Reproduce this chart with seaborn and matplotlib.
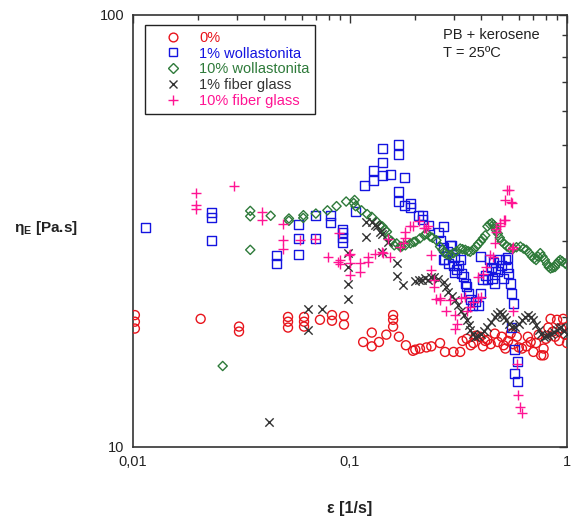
import matplotlib
matplotlib.use("Agg")
import matplotlib.pyplot as plt
import seaborn as sns
import numpy as np
from matplotlib.lines import Line2D
from matplotlib.ticker import FixedLocator, FixedFormatter, NullFormatter

# ---------------- data ----------------
x_0 = [0.0102, 0.0102, 0.0102, 0.0205, 0.0308, 0.0308, 0.0518, 0.0518, 0.0518,
       0.0614, 0.0614, 0.0614, 0.0727, 0.0826, 0.0826, 0.0938, 0.0938, 0.115,
       0.126, 0.126, 0.136, 0.147, 0.158, 0.158, 0.158, 0.168, 0.181, 0.195,
       0.200, 0.21, 0.225, 0.237, 0.26, 0.274, 0.30, 0.322,
       0.33, 0.345, 0.36, 0.37, 0.38, 0.398, 0.41, 0.42, 0.43, 0.445, 0.465,
       0.48, 0.50, 0.51, 0.52, 0.535, 0.55, 0.565, 0.587, 0.60, 0.62, 0.65,
       0.66, 0.68, 0.70, 0.72, 0.74, 0.76, 0.78, 0.78, 0.80, 0.82, 0.84, 0.86,
       0.88, 0.90, 0.92, 0.94, 0.96, 0.98, 1.0]
y_0 = [20.2, 19.5, 18.8, 19.8, 19.0, 18.5, 20.0, 19.5, 18.9,
       20.0, 19.5, 19.0, 19.7, 20.2, 19.6, 20.1, 19.2, 17.5,
       18.4, 17.1, 17.5, 18.2, 20.2, 19.7, 19.0, 18.0, 17.2, 16.7,
       16.8, 16.9, 17.0, 17.1, 17.4, 16.6, 16.6, 16.6,
       17.6, 17.8, 17.2, 17.4, 18.1, 18.0, 17.1, 17.6, 17.7, 17.3, 18.3,
       17.5, 18.0, 17.2, 16.9, 17.6, 18.3, 17.3, 18.0, 17.0, 16.9, 17.1,
       18.0, 17.5, 16.6, 17.4, 18.2, 16.3, 16.9, 16.3, 17.8, 18.9, 19.8, 18.5,
       18.0, 19.7, 17.6, 18.8, 19.8, 18.2, 17.4]

x_w1 = [0.0114, 0.0231, 0.0231, 0.0231, 0.0459, 0.0459, 0.0577, 0.0577, 0.0577,
        0.0695, 0.0695, 0.0815, 0.0815, 0.0925, 0.0925, 0.0925, 0.0925, 0.1055,
        0.1164, 0.128, 0.128, 0.141, 0.141, 0.141, 0.1545, 0.167, 0.167, 0.1775,
        0.167, 0.167, 0.1775, 0.191, 0.191, 0.206, 0.216, 0.216, 0.23, 0.256,
        0.27, 0.26, 0.27, 0.294, 0.28, 0.27, 0.284, 0.304, 0.316, 0.304, 0.326,
        0.289, 0.274, 0.322, 0.30, 0.31, 0.333, 0.34, 0.344, 0.35, 0.358, 0.366,
        0.377, 0.39, 0.398, 0.41, 0.42, 0.40, 0.44, 0.45, 0.43, 0.465, 0.47,
        0.49, 0.50, 0.52, 0.53, 0.54, 0.55, 0.555, 0.565, 0.555, 0.575, 0.59,
        0.575, 0.59, 0.48, 0.46, 0.51, 0.53, 0.455]
y_w1 = [32.2, 34.9, 34.0, 30.1, 27.8, 26.6, 32.8, 30.4, 27.9,
        34.3, 30.4, 34.3, 33.1, 31.9, 31.3, 30.6, 29.8, 35.0,
        40.3, 43.6, 41.3, 49.1, 45.5, 42.4, 42.7, 50.2, 47.6, 42.1,
        39.0, 37.1, 36.3, 36.7, 35.9, 34.4, 34.4, 33.7, 32.6, 31.4,
        32.4, 30.1, 29.0, 29.2, 28.3, 27.1, 26.6, 27.4, 26.3, 25.4, 25.2,
        29.3, 27.1, 27.2, 26.3, 25.7, 24.8, 23.9, 23.5, 22.7, 21.9, 21.3,
        21.7, 21.3, 22.7, 24.4, 25.0, 27.6, 27.1, 26.1, 24.4, 23.9, 25.9,
        27.1, 26.3, 27.1, 26.1, 25.2, 23.9, 22.7, 21.5, 18.9, 16.8, 15.8,
        14.8, 14.2, 25.5, 26.8, 24.5, 27.4, 24.6]

x_w10 = [0.0259, 0.0347, 0.0347, 0.0347, 0.0431, 0.0523, 0.0523, 0.0609, 0.061,
         0.0696, 0.0787, 0.0867, 0.096, 0.104, 0.105, 0.106, 0.113, 0.12, 0.126,
         0.133, 0.137, 0.141, 0.145, 0.148, 0.15, 0.155, 0.16, 0.164, 0.17,
         0.173, 0.18, 0.19, 0.196, 0.2, 0.21, 0.22, 0.225, 0.234, 0.24, 0.25,
         0.26, 0.267, 0.274, 0.28, 0.289, 0.30, 0.31, 0.322, 0.33, 0.34, 0.35,
         0.358, 0.37, 0.382, 0.39, 0.40, 0.41, 0.42, 0.43, 0.44, 0.45, 0.458,
         0.465, 0.47, 0.48, 0.49, 0.50, 0.515, 0.53, 0.545, 0.565, 0.585, 0.61,
         0.63, 0.65, 0.67, 0.69, 0.705, 0.72, 0.735, 0.753, 0.77, 0.79, 0.81,
         0.825, 0.84, 0.86, 0.88, 0.90, 0.915, 0.93, 0.95, 0.98, 1.0]
y_w10 = [15.4, 35.2, 34.2, 28.6, 34.3, 33.8, 33.4, 33.9, 34.4,
         34.7, 35.3, 36.1, 37.0, 36.7, 37.3, 36.1, 35.3, 34.6, 34.1,
         33.2, 32.6, 32.4, 31.8, 31.5, 30.4, 30.0, 29.3, 29.6, 29.1,
         29.1, 29.3, 29.6, 29.8, 29.9, 30.4, 30.9, 31.2, 30.7, 30.5, 30.1,
         29.1, 28.6, 28.1, 27.9, 27.8, 28.1, 28.4, 28.8, 28.7, 28.6, 28.4,
         28.3, 28.6, 29.1, 29.5, 29.9, 30.4, 30.9, 32.4, 32.8, 33.0, 32.7,
         32.4, 31.8, 31.2, 30.5, 29.9, 29.5, 29.1, 28.9, 28.8, 29.0, 29.1,
         28.8, 28.6, 28.1, 27.6, 27.3, 27.1, 27.6, 28.1, 27.6, 27.1, 26.5,
         26.1, 25.9, 26.0, 26.1, 26.6, 26.9, 27.1, 26.9, 26.6, 26.4]

x_fg1 = [0.0425, 0.0638, 0.0638, 0.0745, 0.0975, 0.0975, 0.0975, 0.0975, 0.1187,
         0.1187, 0.126, 0.13, 0.133, 0.137, 0.141, 0.141, 0.15, 0.164, 0.164,
         0.176, 0.2, 0.207, 0.215, 0.222, 0.23, 0.237, 0.243, 0.255, 0.27,
         0.277, 0.284, 0.294, 0.304, 0.315, 0.326, 0.335, 0.345, 0.352, 0.358,
         0.367, 0.377, 0.388, 0.40, 0.415, 0.43, 0.445, 0.465, 0.475, 0.49,
         0.50, 0.51, 0.525, 0.54, 0.555, 0.575, 0.60, 0.62, 0.64, 0.66, 0.68,
         0.70, 0.72, 0.74, 0.76, 0.78, 0.80, 0.82, 0.84, 0.87, 0.90, 0.92,
         0.94, 0.97, 1.0]
y_fg1 = [11.45, 20.9, 18.7, 20.9, 28.1, 26.1, 23.8, 22.0, 33.1,
         30.7, 33.2, 32.6, 32.4, 31.5, 31.2, 28.3, 29.9, 26.7, 24.9,
         23.7, 24.2, 24.3, 24.4, 24.6, 24.4, 24.7, 24.8, 24.5, 24.1,
         23.5, 22.9, 22.4, 21.9, 21.3, 20.7, 20.2, 19.7, 19.2, 18.7,
         18.3, 18.0, 18.1, 18.3, 18.6, 18.95, 19.5, 20.0, 20.3, 20.5,
         20.3, 20.0, 19.7, 19.3, 19.0, 18.95, 19.3, 19.7, 20.0, 20.2, 20.0,
         19.7, 19.2, 18.7, 18.3, 18.0, 18.1, 18.2, 18.3, 18.5, 18.7, 18.9,
         18.95, 18.6, 18.3]

x_fg10 = [0.0195, 0.0195, 0.0195, 0.0292, 0.0394, 0.0394, 0.0493, 0.0493, 0.0493,
          0.0587, 0.0688, 0.0794, 0.0884, 0.0892, 0.0895, 0.0895, 0.0992, 0.1,
          0.1, 0.1, 0.111, 0.111, 0.121, 0.121, 0.13, 0.14, 0.142, 0.15, 0.153,
          0.17, 0.175, 0.18, 0.18, 0.19, 0.195, 0.207, 0.22, 0.225, 0.23, 0.237,
          0.237, 0.245, 0.245, 0.25, 0.26, 0.26, 0.278, 0.289, 0.304, 0.304,
          0.31, 0.326, 0.34, 0.345, 0.358, 0.37, 0.39, 0.40, 0.39, 0.41, 0.425,
          0.44, 0.455, 0.465, 0.47, 0.47, 0.49, 0.49, 0.51, 0.52, 0.52, 0.53,
          0.54, 0.55, 0.555, 0.555, 0.565, 0.565, 0.59, 0.595, 0.61, 0.62]
y_fg10 = [38.8, 36.3, 35.5, 40.3, 35.0, 33.5, 32.8, 30.1, 28.8,
          30.1, 30.3, 27.5, 26.8, 31.3, 27.1, 26.5, 27.8, 28.0,
          26.6, 25.0, 26.6, 25.4, 27.6, 26.8, 27.9, 28.3, 28.1, 30.3, 27.6,
          29.1, 29.6, 30.4, 31.5, 32.4, 32.4, 33.4, 32.1, 32.2, 32.4, 27.8,
          25.7, 24.4, 23.5, 22.0, 21.9, 22.1, 20.7, 21.9, 20.2, 18.8,
          19.3, 22.1, 22.3, 20.7, 21.1, 21.7, 22.1, 22.3, 24.8, 25.2, 26.1,
          27.8, 27.6, 29.6, 31.5, 31.9, 32.4, 33.0, 33.5, 33.5, 37.3, 39.4,
          39.4, 37.0, 36.7, 28.8, 29.1, 20.7, 15.6, 13.2, 12.4, 12.0]

labels = ["0%", "1% wollastonita", "10% wollastonita", "1% fiber glass", "10% fiber glass"]
colors = ["#E8141C", "#1414E0", "#2E7A3A", "#333333", "#FF1493"]

# ---------------- style ----------------
sns.set_theme(style="white")
plt.rcParams["font.family"] = ["Liberation Sans", "DejaVu Sans"]
plt.rcParams["mathtext.default"] = "regular"

fig = plt.figure(figsize=(5.79, 5.25), dpi=100)
ax = fig.add_axes([133 / 579, 1 - 447 / 525, 434 / 579, 432 / 525])
ax.set_xscale("log")
ax.set_yscale("log")

sns.scatterplot(x=x_0, y=y_0, ax=ax, marker="o", s=42, facecolor="none",
                edgecolor=colors[0], linewidth=1.0, zorder=3)
sns.scatterplot(x=x_w1, y=y_w1, ax=ax, marker="s", s=42, facecolor="none",
                edgecolor=colors[1], linewidth=1.0, zorder=3)
sns.scatterplot(x=x_w10, y=y_w10, ax=ax, marker="D", s=22, facecolor="none",
                edgecolor=colors[2], linewidth=1.0, zorder=3)
sns.scatterplot(x=x_fg1, y=y_fg1, ax=ax, marker="x", s=36, color=colors[3],
                linewidth=1.0, zorder=3)
sns.scatterplot(x=x_fg10, y=y_fg10, ax=ax, marker="+", s=50, color=colors[4],
                linewidth=1.0, zorder=3)

ax.set_xlim(0.01, 1)
ax.set_ylim(10, 100)

ax.xaxis.set_major_locator(FixedLocator([0.01, 0.1, 1]))
ax.xaxis.set_major_formatter(FixedFormatter(["0,01", "0,1", "1"]))
ax.xaxis.set_minor_locator(FixedLocator([k * 0.01 for k in range(2, 10)] + [k * 0.1 for k in range(2, 10)]))
ax.xaxis.set_minor_formatter(NullFormatter())
ax.yaxis.set_major_locator(FixedLocator([10, 100]))
ax.yaxis.set_major_formatter(FixedFormatter(["10", "100"]))
ax.yaxis.set_minor_locator(FixedLocator([k * 10 for k in range(2, 10)]))
ax.yaxis.set_minor_formatter(NullFormatter())

ax.tick_params(which="both", direction="in", top=True, right=True,
               color="#333333", labelsize=10.5, labelcolor="#222222")
ax.tick_params(which="major", length=6, width=1.0, pad=6)
ax.tick_params(which="minor", length=3.5, width=1.0)
for sp in ax.spines.values():
    sp.set_color("#333333")
    sp.set_linewidth(1.2)

ax.set_xlabel("ε [1/s]", fontsize=11.5, fontweight="bold", color="#222222")
ax.xaxis.set_label_coords(0.5, -0.1435)
ax.xaxis.label.set_va("center")
ax.set_ylabel(r"$η_E$ [Pa.s]", fontsize=11, fontweight="bold", rotation=0,
              color="#222222")
ax.yaxis.set_label_coords(-0.2, 0.507)
ax.yaxis.label.set_ha("center")
ax.yaxis.label.set_va("center")

ax.text(0.714, 0.954, "PB + kerosene", transform=ax.transAxes, fontsize=10.5,
        va="center", ha="left", color="#222222")
ax.text(0.714, 0.912, "T = 25ºC", transform=ax.transAxes, fontsize=10.5,
        va="center", ha="left", color="#222222")

handles = [
    Line2D([], [], ls="none", marker="o", markersize=6.3, markerfacecolor="none",
           markeredgecolor=colors[0], markeredgewidth=1.0),
    Line2D([], [], ls="none", marker="s", markersize=6.3, markerfacecolor="none",
           markeredgecolor=colors[1], markeredgewidth=1.0),
    Line2D([], [], ls="none", marker="D", markersize=4.6, markerfacecolor="none",
           markeredgecolor=colors[2], markeredgewidth=1.0),
    Line2D([], [], ls="none", marker="x", markersize=6.0, color=colors[3],
           markeredgewidth=1.0),
    Line2D([], [], ls="none", marker="+", markersize=7.0, color=colors[4],
           markeredgewidth=1.0),
]
leg = ax.legend(handles, labels, loc="upper left", bbox_to_anchor=(0.0276, 0.977),
                borderaxespad=0, fontsize=10.5, frameon=True, fancybox=False,
                framealpha=1, edgecolor="#222222", borderpad=0.4,
                handlelength=3.0, handletextpad=0.3, labelspacing=0.12,
                labelcolor=colors)
leg.get_frame().set_linewidth(1.0)

fig.savefig("out.png", dpi=100)
